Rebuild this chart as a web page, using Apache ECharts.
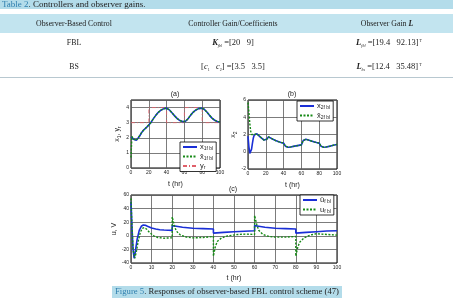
<!DOCTYPE html>
<html>
<head>
<meta charset="utf-8">
<script src="https://cdn.jsdelivr.net/npm/echarts@6/dist/echarts.min.js"></script>
<style>
  body { margin: 0; background: #fff; }
  #chart { width: 458px; height: 299px; }
</style>
</head>
<body>
<div id="chart"></div>
<script>
// (a) x1 tracking
const tA = [0, 1, 2, 3, 4, 5, 6, 8, 10, 12, 14, 16, 18, 20, 22, 25, 28, 31, 34, 37, 40, 43, 46, 49, 52, 55, 58, 61, 64, 67, 70, 73, 76, 79, 82, 85, 88, 91, 94, 97, 100];
const x1 = [2.05, 2.05, 2.0, 1.9, 1.82, 1.8, 1.83, 1.98, 2.15, 2.35, 2.5, 2.62, 2.72, 2.82, 2.98, 3.25, 3.5, 3.7, 3.84, 3.93, 3.96, 3.85, 3.66, 3.45, 3.27, 3.14, 3.07, 3.08, 3.25, 3.5, 3.7, 3.84, 3.93, 3.96, 3.9, 3.72, 3.5, 3.3, 3.16, 3.08, 3.05];
const x1Hat = [0.7, 2.1, 2.02, 1.92, 1.83, 1.8, 1.83, 1.98, 2.15, 2.35, 2.5, 2.62, 2.72, 2.82, 2.98, 3.25, 3.5, 3.7, 3.84, 3.93, 3.96, 3.85, 3.66, 3.45, 3.27, 3.14, 3.07, 3.08, 3.25, 3.5, 3.7, 3.84, 3.93, 3.96, 3.9, 3.72, 3.5, 3.3, 3.16, 3.08, 3.05];
const tR = [0, 20, 20, 40, 40, 60, 60, 80, 80, 100];
const yr = [3, 3, 4, 4, 3, 3, 4, 4, 3, 3];

// (b) x2
const tB = [0, 1, 2, 3, 4, 5, 6, 7, 8, 9, 10, 12, 14, 16, 18, 20, 21, 22, 23, 25, 28, 31, 34, 37, 40, 41, 42, 43, 45, 48, 51, 54, 57, 60, 61, 62, 63, 65, 68, 71, 74, 77, 80, 81, 82, 83, 85, 88, 91, 94, 97, 100];
const x2 = [1.8, 0.6, -0.2, -0.3, 0.3, 1.0, 1.6, 1.95, 2.1, 2.12, 2.08, 1.9, 1.7, 1.5, 1.35, 1.25, 1.45, 1.65, 1.72, 1.65, 1.45, 1.3, 1.18, 1.08, 1.0, 0.8, 0.65, 0.55, 0.52, 0.56, 0.62, 0.68, 0.74, 0.8, 1.05, 1.3, 1.42, 1.45, 1.35, 1.25, 1.15, 1.07, 1.0, 0.8, 0.65, 0.55, 0.52, 0.56, 0.62, 0.7, 0.78, 0.85];
const x2Hat = [5.7, 4.6, 3.3, 2.4, 2.0, 1.9, 1.95, 2.0, 2.1, 2.12, 2.08, 1.9, 1.7, 1.5, 1.35, 1.25, 1.45, 1.65, 1.72, 1.65, 1.45, 1.3, 1.18, 1.08, 1.0, 0.8, 0.65, 0.55, 0.52, 0.56, 0.62, 0.68, 0.74, 0.8, 1.05, 1.3, 1.42, 1.45, 1.35, 1.25, 1.15, 1.07, 1.0, 0.8, 0.65, 0.55, 0.52, 0.56, 0.62, 0.7, 0.78, 0.85];

// (c) control input
const tU = [0, 0.5, 1, 1.5, 2, 3, 4, 5, 6, 7, 8, 10, 12, 14, 16, 18, 20, 20, 22, 25, 30, 35, 40, 40, 45, 50, 55, 60, 60, 62, 65, 70, 75, 80, 80, 85, 90, 95, 100];
const uHat = [50, 10, -20, -33, -25, -5, 8, 14, 16, 15.5, 14, 11.5, 10, 9, 8.5, 8.2, 8, 15, 14, 12.5, 11, 10.5, 10, 4, 5, 6, 6.8, 7.5, 15, 14, 12.5, 11, 10.5, 10, 4, 5, 6, 7, 7.5];
const tV = [0, 0.4, 1, 1.8, 2.5, 3.5, 4.5, 5.5, 6.5, 7.5, 9, 11, 13, 16, 20, 20, 21, 22, 24, 27, 30, 35, 40, 40, 41, 42, 44, 47, 52, 56, 60, 60, 61, 62, 64, 67, 70, 75, 80, 80, 81, 82, 84, 87, 90, 95, 100];
const uVal = [55, 20, -20, -33, -25, -8, 5, 11, 12, 10, 5, 0, -2.5, -3.5, -3, 28, 15, 7, 1, -2, -3, -2.5, -1, -30, -15, -8, -3, 0, 2, 2.5, 2, 30, 17, 8, 2, -1, -2, -2, -1, -30, -16, -9, -3, 1, 3, 2, 1];

const pairs = (t, v) => t.map((x, i) => [x, v[i]]);

const SANS = 'Liberation Sans';
const SERIF = 'Liberation Serif';
const BLUE = '#1a2fd6';
const GREEN = '#168a16';

const gridLine = { show: true, lineStyle: { color: '#5a5a5a', width: 0.8 } };
const tickLabel = { fontSize: 5, color: '#222', fontFamily: SANS, margin: 2 };
const nameStyle = {
  fontSize: 7, color: '#222', fontFamily: SANS,
  rich: {
    a: { fontSize: 7, fontFamily: SANS, color: '#222' },
    s: { fontSize: 5, fontFamily: SANS, color: '#222', padding: [4, 0, 0, 0] }
  }
};

function xAxisFor(gi, interval, gap) {
  return {
    type: 'value', gridIndex: gi, min: 0, max: 100, interval: interval,
    name: 't (hr)', nameLocation: 'middle', nameGap: gap, nameTextStyle: nameStyle,
    axisLine: { show: false }, axisTick: { show: false },
    axisLabel: tickLabel, splitLine: gridLine
  };
}

function yAxisFor(gi, min, max, interval, name, gap) {
  return {
    type: 'value', gridIndex: gi, min: min, max: max, interval: interval,
    name: name, nameLocation: 'middle', nameGap: gap, nameTextStyle: nameStyle,
    axisLine: { show: false }, axisTick: { show: false },
    axisLabel: Object.assign({ showMaxLabel: max % interval === 0 }, tickLabel),
    splitLine: gridLine
  };
}

const legendRich = {
  m: { fontSize: 7.5, fontFamily: SANS, color: '#222' },
  s: { fontSize: 5, fontFamily: SANS, color: '#222', padding: [4, 0, 0, 0] }
};
const legendLabels = {
  'x1': '{m|x}{s|1f bl}',
  'x1hat': '{m|x\u0302}{s|1f bl}',
  'yr': '{m|y}{s|r}',
  'x2': '{m|x}{s|2f bl}',
  'x2hat': '{m|x\u0302}{s|2f bl}',
  'uhat': '{m|u\u0302}{s|f bl}',
  'u': '{m|u}{s|f bl}'
};

function legendFor(left, top, names) {
  return {
    left: left, top: top, orient: 'vertical', z: 10,
    itemWidth: 14, itemHeight: 6, itemGap: 1,
    padding: [1, 3, 1, 2],
    backgroundColor: '#fff', borderColor: '#000', borderWidth: 0.8, borderRadius: 0,
    data: names, selectedMode: false,
    itemStyle: { opacity: 0 },
    formatter: n => legendLabels[n],
    textStyle: { rich: legendRich, padding: [0, 0, 0, -2] }
  };
}

function line(name, gi, data, color, width, type, z) {
  return {
    name: name, type: 'line', xAxisIndex: gi, yAxisIndex: gi,
    data: data, symbol: 'none', showSymbol: false, animation: false, z: z,
    lineStyle: { color: color, width: width, type: type }, itemStyle: { color: color }
  };
}

const chart = echarts.init(document.getElementById('chart'), null, { renderer: 'canvas' });

const option = {
  backgroundColor: '#fff',
  animation: false,
  grid: [
    { left: 131, top: 100, width: 89, height: 68, show: true, borderColor: '#000', borderWidth: 1, backgroundColor: '#fff' },
    { left: 248, top: 100, width: 89, height: 69, show: true, borderColor: '#000', borderWidth: 1, backgroundColor: '#fff' },
    { left: 131, top: 195, width: 206, height: 68, show: true, borderColor: '#000', borderWidth: 1, backgroundColor: '#fff' }
  ],
  xAxis: [xAxisFor(0, 20, 13), xAxisFor(1, 20, 13), xAxisFor(2, 10, 12)],
  yAxis: [
    yAxisFor(0, 0, 4.5, 1, '{a|x}{s|1}{a|, y}{s|r}', 9),
    yAxisFor(1, -2, 6, 2, '{a|x}{s|2}', 9),
    yAxisFor(2, -40, 60, 20, 'u, V', 10)
  ],
  legend: [
    legendFor(180, 142, ['x1', 'x1hat', 'yr']),
    legendFor(297, 101, ['x2', 'x2hat']),
    legendFor(300, 195, ['uhat', 'u'])
  ],
  series: [
    line('yr', 0, pairs(tR, yr), '#e0606a', 0.8, [4, 2, 1, 2], 2),
    line('x1', 0, pairs(tA, x1), BLUE, 1.6, 'solid', 3),
    line('x1hat', 0, pairs(tA, x1Hat), GREEN, 1.4, [2, 1.5], 4),
    line('x2', 1, pairs(tB, x2), BLUE, 1.6, 'solid', 3),
    line('x2hat', 1, pairs(tB, x2Hat), GREEN, 1.4, [2, 1.5], 4),
    line('uhat', 2, pairs(tU, uHat), BLUE, 1.6, 'solid', 3),
    line('u', 2, pairs(tV, uVal), GREEN, 1.4, [2, 1.5], 4)
  ],
  graphic: [
    // table caption band
    { type: 'rect', shape: { x: 0, y: 0, width: 453, height: 9 }, style: { fill: '#b3dcea' }, silent: true },
    { type: 'text', x: 2, y: 4.5, style: {
        text: '{b|Table 2}{n|. Controllers and observer gains.}',
        verticalAlign: 'middle',
        rich: {
          b: { fontFamily: SERIF, fontSize: 9, fill: '#2f7fae' },
          n: { fontFamily: SERIF, fontSize: 9, fill: '#222' }
        }
      } },
    // header row
    { type: 'rect', shape: { x: 0, y: 14, width: 453, height: 19 }, style: { fill: '#c2e4ef' }, silent: true },
    { type: 'text', x: 74, y: 24, style: { text: 'Observer-Based Control', fontFamily: SERIF, fontSize: 7.8, fill: '#222', align: 'center', verticalAlign: 'middle' } },
    { type: 'text', x: 233, y: 24, style: { text: 'Controller Gain/Coefficients', fontFamily: SERIF, fontSize: 7.8, fill: '#222', align: 'center', verticalAlign: 'middle' } },
    { type: 'text', x: 387, y: 24, style: {
        text: '{n|Observer Gain }{bi|L}', align: 'center', verticalAlign: 'middle',
        rich: {
          n: { fontFamily: SERIF, fontSize: 7.8, fill: '#222' },
          bi: { fontFamily: SERIF, fontSize: 7.8, fill: '#222', fontStyle: 'italic', fontWeight: 'bold' }
        }
      } },
    // rows
    { type: 'text', x: 74, y: 43, style: { text: 'FBL', fontFamily: SERIF, fontSize: 7.8, fill: '#222', align: 'center', verticalAlign: 'middle' } },
    { type: 'text', x: 74, y: 67, style: { text: 'BS', fontFamily: SERIF, fontSize: 7.8, fill: '#222', align: 'center', verticalAlign: 'middle' } },
    { type: 'text', x: 233, y: 43, style: {
        text: '{bi|K}{s|fbl}{n| =[20   9]}', align: 'center', verticalAlign: 'middle',
        rich: {
          n: { fontFamily: SERIF, fontSize: 8.5, fill: '#222' },
          bi: { fontFamily: SERIF, fontSize: 8.5, fill: '#222', fontStyle: 'italic', fontWeight: 'bold' },
          s: { fontFamily: SERIF, fontSize: 4, fill: '#222', fontStyle: 'italic', padding: [5, 0, 0, 0] }
        }
      } },
    { type: 'text', x: 233, y: 67, style: {
        text: '{n|[}{i|c}{s|1}{n|   }{i|c}{s|2}{n|] =[3.5   3.5]}', align: 'center', verticalAlign: 'middle',
        rich: {
          n: { fontFamily: SERIF, fontSize: 8.5, fill: '#222' },
          i: { fontFamily: SERIF, fontSize: 8.5, fill: '#222', fontStyle: 'italic' },
          s: { fontFamily: SERIF, fontSize: 4, fill: '#222', padding: [5, 0, 0, 0] }
        }
      } },
    { type: 'text', x: 389, y: 43, style: {
        text: '{bi|L}{s|fbl}{n| =[19.4   92.13]}{t|T}', align: 'center', verticalAlign: 'middle',
        rich: {
          n: { fontFamily: SERIF, fontSize: 8.5, fill: '#222' },
          bi: { fontFamily: SERIF, fontSize: 8.5, fill: '#222', fontStyle: 'italic', fontWeight: 'bold' },
          s: { fontFamily: SERIF, fontSize: 4, fill: '#222', fontStyle: 'italic', padding: [5, 0, 0, 0] },
          t: { fontFamily: SERIF, fontSize: 4, fill: '#222', padding: [0, 0, 5, 1] }
        }
      } },
    { type: 'text', x: 389, y: 67, style: {
        text: '{bi|L}{s|bs}{n| =[12.4   35.48]}{t|T}', align: 'center', verticalAlign: 'middle',
        rich: {
          n: { fontFamily: SERIF, fontSize: 8.5, fill: '#222' },
          bi: { fontFamily: SERIF, fontSize: 8.5, fill: '#222', fontStyle: 'italic', fontWeight: 'bold' },
          s: { fontFamily: SERIF, fontSize: 4, fill: '#222', fontStyle: 'italic', padding: [5, 0, 0, 0] },
          t: { fontFamily: SERIF, fontSize: 4, fill: '#222', padding: [0, 0, 5, 1] }
        }
      } },
    { type: 'line', shape: { x1: 0, y1: 77.5, x2: 453, y2: 77.5 }, style: { stroke: '#b8c8d0', lineWidth: 1 }, silent: true },
    // subplot titles
    { type: 'text', x: 175, y: 94, style: { text: '(a)', fontFamily: SANS, fontSize: 7, fill: '#222', align: 'center', verticalAlign: 'middle' } },
    { type: 'text', x: 292, y: 94, style: { text: '(b)', fontFamily: SANS, fontSize: 7, fill: '#222', align: 'center', verticalAlign: 'middle' } },
    { type: 'text', x: 233, y: 189, style: { text: '(c)', fontFamily: SANS, fontSize: 7, fill: '#222', align: 'center', verticalAlign: 'middle' } },
    // figure caption
    { type: 'rect', shape: { x: 112, y: 286, width: 230, height: 12 }, style: { fill: '#b3dcea' }, silent: true },
    { type: 'text', x: 227, y: 292, style: {
        text: '{b|Figure 5}{n|. Responses of observer-based FBL control scheme (47)}',
        align: 'center', verticalAlign: 'middle',
        rich: {
          b: { fontFamily: SERIF, fontSize: 8.7, fill: '#2f7fae' },
          n: { fontFamily: SERIF, fontSize: 8.7, fill: '#222' }
        }
      } }
  ]
};

chart.setOption(option);
</script>
</body>
</html>
